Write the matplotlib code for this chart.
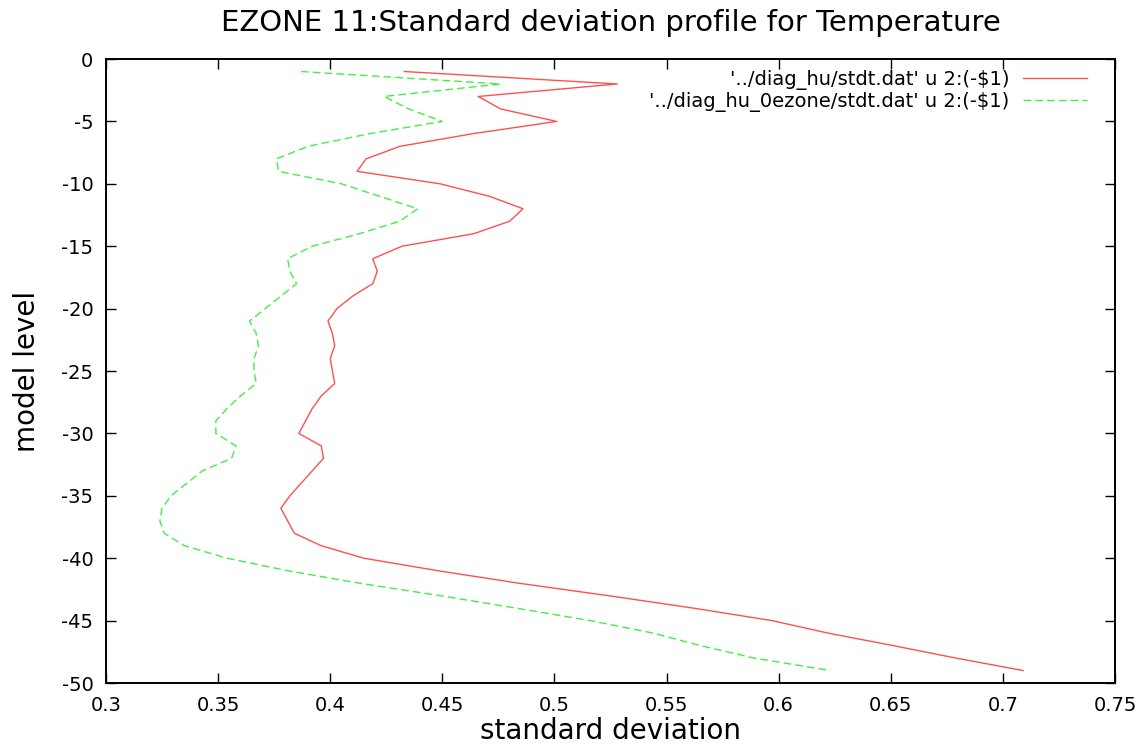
import matplotlib
matplotlib.use('Agg')
import matplotlib.pyplot as plt
from matplotlib.ticker import FuncFormatter, MultipleLocator
import numpy as np

# model levels 1..49, plotted as -level
levels = np.arange(1, 50)

# '../diag_hu/stdt.dat'
std_hu = [0.433, 0.528, 0.466, 0.476, 0.501, 0.463, 0.431, 0.416, 0.412, 0.449,
          0.471, 0.486, 0.480, 0.464, 0.432, 0.419, 0.421, 0.419, 0.410, 0.403,
          0.399, 0.401, 0.402, 0.400, 0.401, 0.402, 0.396, 0.392, 0.389, 0.386,
          0.396, 0.397, 0.392, 0.387, 0.382, 0.378, 0.381, 0.384, 0.396, 0.415,
          0.448, 0.484, 0.524, 0.562, 0.597, 0.622, 0.651, 0.679, 0.709]

# '../diag_hu_0ezone/stdt.dat'
std_0ezone = [0.387, 0.476, 0.424, 0.435, 0.450, 0.417, 0.390, 0.376, 0.377, 0.405,
              0.422, 0.439, 0.431, 0.413, 0.392, 0.381, 0.382, 0.385, 0.378, 0.371,
              0.364, 0.367, 0.368, 0.366, 0.366, 0.367, 0.360, 0.354, 0.349, 0.349,
              0.358, 0.356, 0.343, 0.336, 0.329, 0.325, 0.324, 0.326, 0.335, 0.354,
              0.381, 0.413, 0.449, 0.483, 0.516, 0.544, 0.565, 0.589, 0.623]

labels = ["'../diag_hu/stdt.dat' u 2:(-$1)",
          "'../diag_hu_0ezone/stdt.dat' u 2:(-$1)"]

plt.rcParams['font.family'] = ['DejaVu Sans']
plt.rcParams['axes.unicode_minus'] = False

fig = plt.figure(figsize=(11.47, 7.49), dpi=100)
ax = fig.add_axes([0.0924, 0.0881, 0.8797, 0.8331])

ax.plot(std_hu, -levels, color='#ff5050', lw=1.0, label=labels[0])
ax.plot(std_0ezone, -levels, color='#44ee44', lw=1.0, dashes=(5.5, 3),
        label=labels[1])

ax.set_xlim(0.3, 0.75)
ax.set_ylim(-50, 0)
ax.xaxis.set_major_locator(MultipleLocator(0.05))
ax.yaxis.set_major_locator(MultipleLocator(5))
ax.xaxis.set_major_formatter(FuncFormatter(lambda v, p: '%g' % round(v, 2)))
ax.yaxis.set_major_formatter(FuncFormatter(lambda v, p: '%g' % v))
ax.tick_params(direction='in', length=7, width=1.0, top=True, right=True,
               labelsize=14, pad=9)
for s in ax.spines.values():
    s.set_linewidth(1.4)

ax.set_title('EZONE 11:Standard deviation profile for Temperature',
             fontsize=21, pad=20)
ax.set_xlabel('standard deviation', fontsize=20, labelpad=2)
ax.set_ylabel('model level', fontsize=20, labelpad=15)

ax.legend(loc='upper right', bbox_to_anchor=(0.9723, 0.982), frameon=False,
          markerfirst=False, fontsize=14, handlelength=3.3, handletextpad=0.7,
          labelspacing=0.1, borderpad=0, borderaxespad=0)

plt.savefig('out.png', dpi=100, facecolor='white')
